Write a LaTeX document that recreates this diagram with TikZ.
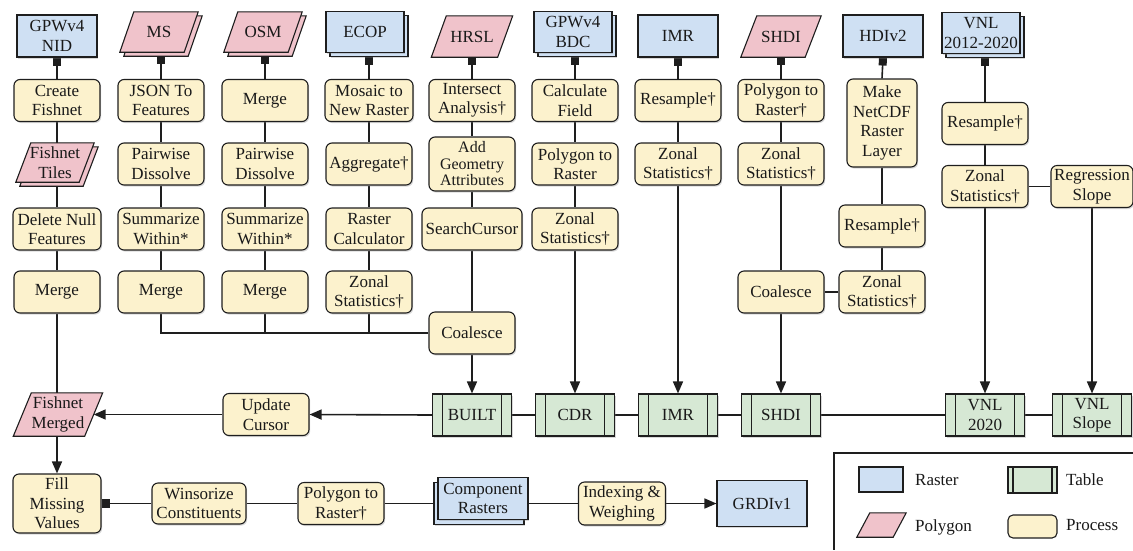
\documentclass[tikz,border=0pt]{standalone}
\usepackage{fontspec}
\setmainfont{Liberation Serif}
\usetikzlibrary{arrows.meta,shadows}
\definecolor{procc}{RGB}{252,242,205}
\definecolor{rastc}{RGB}{207,224,243}
\definecolor{polyc}{RGB}{240,195,203}
\definecolor{tblc}{RGB}{214,232,212}
\definecolor{linec}{RGB}{30,30,30}
\definecolor{textc}{RGB}{25,25,25}
\newcommand{\dfont}{\fontsize{17}{19.5}\selectfont}
\newcommand{\sfont}{\fontsize{16}{16.5}\selectfont}
% parallelogram drawn round a named (invisible) node: #1 node, #2 slant
\newcommand{\pgmshape}[2]{%
  \fill[black,opacity=0.28,xshift=1.2pt,yshift=-1.6pt] ([xshift=#2]#1.north west) -- (#1.north east) -- ([xshift=-#2]#1.south east) -- (#1.south west) -- cycle;
  \filldraw[fill=polyc,draw=linec,line width=1.1pt] ([xshift=#2]#1.north west) -- (#1.north east) -- ([xshift=-#2]#1.south east) -- (#1.south west) -- cycle;}
\newcommand{\pgmflat}[2]{%
  \filldraw[fill=polyc,draw=linec,line width=1.1pt] ([xshift=#2]#1.north west) -- (#1.north east) -- ([xshift=-#2]#1.south east) -- (#1.south west) -- cycle;}
\pgfdeclarelayer{bg}
\pgfdeclarelayer{mid}
\pgfsetlayers{bg,mid,main}
\tikzset{
  sh/.style={drop shadow={shadow xshift=1.2pt,shadow yshift=-1.6pt,opacity=0.3}},
  shp/.style={draw=linec,line width=1.1pt,text=textc,font=\dfont,align=center,inner sep=1pt},
  procS/.style={shp,fill=procc,rounded corners=6pt,minimum width=86pt,minimum height=42pt},
  rastS/.style={shp,fill=rastc,minimum width=80pt,minimum height=42pt},
  tblS/.style={shp,fill=tblc,minimum width=79pt,minimum height=42pt,
    path picture={\draw[linec,line width=1.1pt]
      ([xshift=#1]path picture bounding box.north west) -- ([xshift=#1]path picture bounding box.south west)
      ([xshift=-#1]path picture bounding box.north east) -- ([xshift=-#1]path picture bounding box.south east);}},
  tblS/.default=10pt,
  proc/.style={procS,sh},
  rast/.style={rastS,sh},
  tbl/.style={tblS,sh},
  poly/.style={rectangle,text=textc,font=\dfont,align=center,inner sep=1pt,minimum width=80pt,minimum height=41pt},
  conn/.style={draw=linec,line width=1.6pt},
  arr/.style={conn,-{Triangle[length=12pt,width=10pt]}},
  sq/.style={conn,{Square[length=8pt,width=8pt]}-},
  sqend/.style={conn,-{Square[length=8pt,width=9pt]}},
  lbl/.style={text=textc,font=\dfont,anchor=west,inner sep=0pt},
}
\begin{document}
\begin{tikzpicture}[x=1pt,y=-1pt]
\useasboundingbox (0,0) rectangle (1133,550);
% ---------- sources ----------
\node[rast] (nid) at (57,36) {GPWv4\\NID};
\node[poly,minimum width=78pt,minimum height=40pt] (msb) at (163,36) {};
\node[poly,minimum width=78pt,minimum height=40pt] (ms) at (159,32) {MS};
\node[poly,minimum width=78pt,minimum height=40pt] (osmb) at (267,36) {};
\node[poly,minimum width=78pt,minimum height=40pt] (osm) at (263,32) {OSM};
\node[rast,minimum width=78pt,minimum height=41pt] (ecopb) at (369,36) {};
\node[rast,minimum width=78pt,minimum height=41pt] (ecop) at (365,32) {ECOP};
\node[poly,minimum width=81pt] (hrsl) at (472,36.5) {HRSL};
\node[rast,minimum width=78pt,minimum height=41pt] (bdcb) at (577,36) {};
\node[rast,minimum width=78pt,minimum height=41pt] (bdc) at (573,32) {GPWv4\\BDC};
\node[rast] (imr) at (678,36) {IMR};
\node[poly] (shdi) at (781,36.5) {SHDI};
\node[rast] (hdi) at (883,36) {HDIv2};
\node[rast,minimum width=78pt,minimum height=41pt] (vnlb) at (985,37) {};
\node[rast,minimum width=78pt,minimum height=41pt] (vnl) at (981,33) {VNL\\2012-2020};
% ---------- row 1 ----------
\node[proc] (cf) at (57,100.5) {Create\\Fishnet};
\node[proc] (jf) at (161,100.5) {JSON To\\Features};
\node[proc] (mg1) at (265,100.5) {Merge};
\node[proc,minimum width=88pt] (mos) at (369,100.5) {Mosaic to\\New Raster};
\node[proc] (ia) at (472,100.5) {Intersect\\Analysis†};
\node[proc] (calc) at (575,100.5) {Calculate\\Field};
\node[proc] (rs1) at (678,100.5) {Resample†};
\node[proc] (pr1) at (781,100.5) {Polygon to\\Raster†};
\node[proc,minimum width=70pt,minimum height=88pt] (nc) at (882,123) {Make\\NetCDF\\Raster\\Layer};
\node[proc] (rs2) at (985,123.5) {Resample†};
% ---------- row 2 ----------
\node[poly,minimum width=78pt,minimum height=39pt] (tilesb) at (59,166.5) {};
\node[poly,minimum width=78pt,minimum height=39pt] (tiles) at (55,162.5) {Fishnet\\Tiles};
\node[proc] (pd1) at (161,164) {Pairwise\\Dissolve};
\node[proc] (pd2) at (265,164) {Pairwise\\Dissolve};
\node[proc] (agg) at (369,164) {Aggregate†};
\node[proc,minimum height=54pt,font=\sfont] (aga) at (472,164) {Add\\Geometry\\Attributes};
\node[proc] (p2r1) at (575,164) {Polygon to\\Raster};
\node[proc] (zs1) at (678,164) {Zonal\\Statistics†};
\node[proc] (zs2) at (781,164) {Zonal\\Statistics†};
% ---------- row 3 ----------
\node[proc,minimum width=88pt] (dn) at (57,229) {Delete Null\\Features};
\node[proc] (sw1) at (161,229) {Summarize\\Within*};
\node[proc] (sw2) at (265,229) {Summarize\\Within*};
\node[proc] (rc) at (369,229) {Raster\\Calculator};
\node[proc,minimum width=100pt] (sc) at (472,229) {SearchCursor};
\node[proc] (zs3) at (575,229) {Zonal\\Statistics†};
\node[proc] (rs3) at (882,226) {Resample†};
\node[proc] (zs4) at (985,186.5) {Zonal\\Statistics†};
\node[proc,minimum width=82pt] (reg) at (1092,186.5) {Regression\\Slope};
% ---------- row 4 ----------
\node[proc] (mg2) at (57,292) {Merge};
\node[proc] (mg3) at (161,292) {Merge};
\node[proc] (mg4) at (265,292) {Merge};
\node[proc] (zs5) at (369,292) {Zonal\\Statistics†};
\node[proc] (co2) at (781,292) {Coalesce};
\node[proc] (zs6) at (882,292) {Zonal\\Statistics†};
\node[proc] (co1) at (472,333) {Coalesce};
% ---------- tables ----------
\node[tbl] (built) at (472,415) {BUILT};
\node[tbl] (cdr) at (575,415) {CDR};
\node[tbl] (imrt) at (678,415) {IMR};
\node[tbl] (shdit) at (781,415) {SHDI};
\node[tbl] (v20) at (985,415) {VNL\\2020};
\node[tbl] (vsl) at (1092,415) {VNL\\Slope};
\node[poly,minimum width=89pt,minimum height=43pt] (fm) at (58,414.5) {Fishnet\\Merged};
\node[proc] (uc) at (266,414.5) {Update\\Cursor};
% ---------- bottom row ----------
\node[proc,minimum width=88pt,minimum height=59pt] (fill) at (57,503.5) {Fill\\Missing\\Values};
\node[proc,minimum width=94pt,minimum height=41pt] (wins) at (199,503.5) {Winsorize\\Constituents};
\node[proc] (p2r2) at (341,503.5) {Polygon to\\Raster†};
\node[rast,minimum width=90pt] (compb) at (479,503.5) {};
\node[rast,minimum width=90pt] (compf) at (483,498.5) {Component\\Rasters};
\node[proc,minimum width=87pt,minimum height=43pt] (iw) at (622,503.5) {Indexing \&\\Weighing};
\node[rast,minimum width=90pt,minimum height=46pt] (grdi) at (762,503.5) {GRDIv1};
% ---------- legend ----------
\draw[linec,line width=1.1pt] (1133,453) -| (834,550);
\node[rastS,minimum width=44pt,minimum height=25pt] (lr) at (881,479.5) {};
\node[lbl] (lrt) at (915,480) {Raster};
\node[tblS=5pt,minimum width=49pt,minimum height=26pt] (lt) at (1032.5,480) {};
\node[lbl] (ltt) at (1066,480) {Table};
\node[poly,minimum width=49pt,minimum height=24pt] (lp) at (881.5,525) {};
\node[lbl] (lpt) at (915,527) {Polygon};
\node[procS,rounded corners=5pt,minimum width=49pt,minimum height=23pt] (lpr) at (1032.5,526.5) {};
\node[lbl] (lprt) at (1066,525) {Process};
% ---------- parallelogram outlines ----------
\begin{pgfonlayer}{mid}
\pgmshape{msb}{14pt}\pgmshape{ms}{14pt}
\pgmshape{osmb}{14pt}\pgmshape{osm}{14pt}
\pgmshape{hrsl}{15pt}
\pgmshape{shdi}{16pt}
\pgmshape{tilesb}{15pt}\pgmshape{tiles}{15pt}
\pgmshape{fm}{18pt}
\pgmflat{lp}{13pt}
\end{pgfonlayer}
% ---------- connectors ----------
\begin{pgfonlayer}{bg}
% column 1
\draw[sq] (nid.south) -- (cf.north);
\draw[conn] (cf.south) -- (cf.south |- tiles.north);
\draw[conn] (dn.north |- tilesb.south) -- (dn.north);
\draw[conn] (dn) -- (mg2);
\draw[conn] (mg2.south) -- (mg2.south |- fm.north);
\draw[arr] (fill.north |- fm.south) -- (fill.north);
% column 2
\draw[sq] (jf.north |- msb.south) -- (jf.north);
\draw[conn] (jf) -- (pd1) -- (sw1) -- (mg3);
\draw[conn] (mg3.south) |- (co1.west);
% column 3
\draw[sq] (mg1.north |- osmb.south) -- (mg1.north);
\draw[conn] (mg1) -- (pd2) -- (sw2) -- (mg4);
\draw[conn] (mg4.south) -- (mg4.south |- co1.west);
% column 4
\draw[sq] (mos.north |- ecopb.south) -- (mos.north);
\draw[conn] (mos) -- (agg) -- (rc) -- (zs5);
\draw[conn] (zs5.south) -- (zs5.south |- co1.west);
% column 5
\draw[sq] (hrsl.south) -- (ia.north);
\draw[conn] (ia) -- (aga) -- (sc) -- (co1);
\draw[arr] (co1.south) -- (built.north);
% column 6
\draw[sq] (calc.north |- bdcb.south) -- (calc.north);
\draw[conn] (calc) -- (p2r1) -- (zs3);
\draw[arr] (zs3.south) -- (cdr.north);
% column 7
\draw[sq] (imr.south) -- (rs1.north);
\draw[conn] (rs1) -- (zs1);
\draw[arr] (zs1.south) -- (imrt.north);
% column 8
\draw[sq] (shdi.south) -- (pr1.north);
\draw[conn] (pr1) -- (zs2) -- (co2);
\draw[arr] (co2.south) -- (shdit.north);
% column 9
\draw[sq] (hdi.south) -- (nc.north);
\draw[conn] (nc) -- (rs3) -- (zs6);
\draw[conn] (zs6) -- (co2);
% column 10/11
\draw[sq] (rs2.north |- vnlb.south) -- (rs2.north);
\draw[conn] (rs2) -- (zs4);
\draw[arr] (zs4.south) -- (v20.north);
\draw[conn] (zs4) -- (reg);
\draw[arr] (reg.south) -- (vsl.north);
% table row
\draw[conn] (vsl) -- (v20) -- (shdit) -- (imrt) -- (cdr) -- (built);
\draw[arr] (built.west) -- (uc.east);
\draw[arr] (uc.west) -- ([xshift=-9pt]fm.east);
% bottom row
\draw[arr] (iw.east) -- (grdi.west);
\draw[conn] (compf.east |- iw.west) -- (iw.west);
\draw[conn] (p2r2.east) -- (compb.west);
\draw[conn] (wins.east) -- (p2r2.west);
\draw[sqend] (wins.west) -- (fill.east);
\end{pgfonlayer}
\end{tikzpicture}
\end{document}
